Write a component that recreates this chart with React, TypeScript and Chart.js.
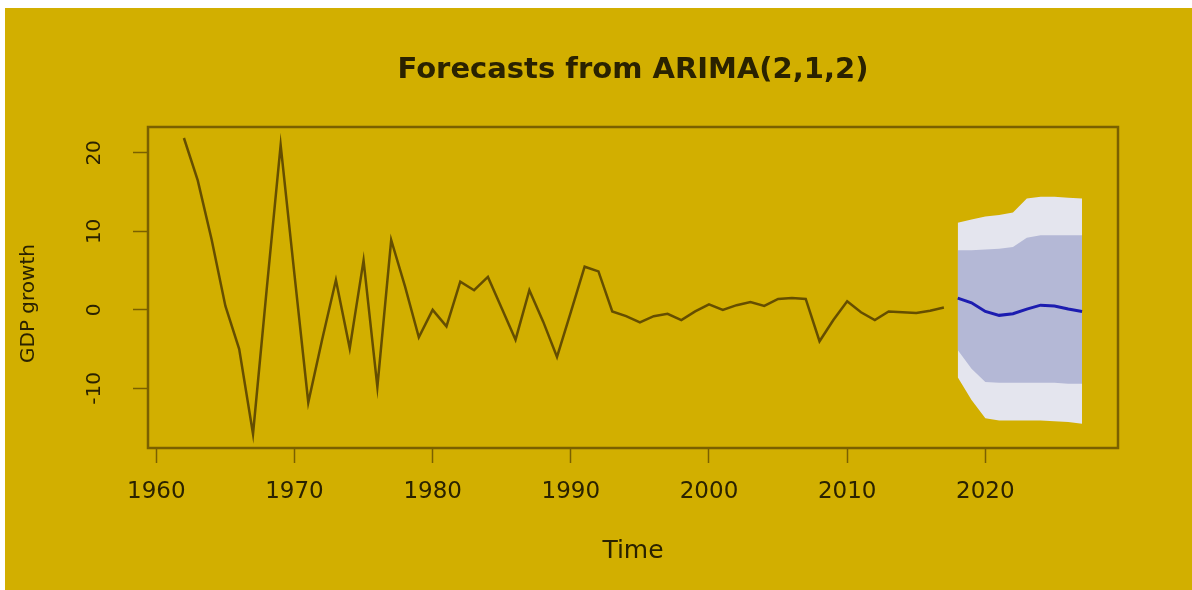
import React, { useEffect, useRef } from "react";
import { Chart, registerables } from "chart.js";

Chart.register(...registerables);

// ---------- data ----------
const obsYears = [
  1962, 1963, 1964, 1965, 1966, 1967, 1968, 1969, 1970, 1971,
  1972, 1973, 1974, 1975, 1976, 1977, 1978, 1979, 1980, 1981,
  1982, 1983, 1984, 1985, 1986, 1987, 1988, 1989, 1990, 1991,
  1992, 1993, 1994, 1995, 1996, 1997, 1998, 1999, 2000, 2001,
  2002, 2003, 2004, 2005, 2006, 2007, 2008, 2009, 2010, 2011,
  2012, 2013, 2014, 2015, 2016, 2017,
];
const gdpGrowth = [
  21.9, 16.5, 9.0, 0.5, -5.0, -15.8, 2.8, 21.0, 4.5, -11.8,
  -3.8, 3.8, -4.9, 6.3, -9.8, 8.9, 3.0, -3.5, 0.0, -2.1,
  3.6, 2.5, 4.2, 0.2, -3.8, 2.5, -1.5, -6.0, -0.3, 5.5,
  4.9, -0.2, -0.8, -1.6, -0.8, -0.5, -1.3, -0.2, 0.7, 0.0,
  0.6, 1.0, 0.5, 1.4, 1.5, 1.4, -4.0, -1.3, 1.1, -0.3,
  -1.3, -0.2, -0.3, -0.4, -0.1, 0.3,
];
const fcYears = [2018, 2019, 2020, 2021, 2022, 2023, 2024, 2025, 2026, 2027];
const fcMean = [1.5, 0.9, -0.2, -0.7, -0.5, 0.1, 0.6, 0.5, 0.1, -0.2];
const hi80 = [7.6, 7.6, 7.7, 7.8, 8.0, 9.2, 9.5, 9.5, 9.5, 9.5];
const lo80 = [-5.1, -7.5, -9.2, -9.3, -9.3, -9.3, -9.3, -9.3, -9.4, -9.4];
const hi95 = [11.1, 11.5, 11.9, 12.1, 12.4, 14.2, 14.4, 14.4, 14.3, 14.2];
const lo95 = [-8.6, -11.5, -13.8, -14.1, -14.1, -14.1, -14.1, -14.2, -14.3, -14.5];
const xTicks = [1960, 1970, 1980, 1990, 2000, 2010, 2020];
const yTicks = [-10, 0, 10, 20];
const yTitle = "GDP growth";

// ---------- style ----------
const BG = "#d2af00";
const TEXT = "#2a2200";
const BOX = "#7a6000";
const LINE = "#654e00";
const BLUE = "#1c1cb0";
const BAND80 = "#b4b8d6";
const BAND95 = "#e4e5ee";
const FONT = "DejaVu Sans";

const pts = (xs: number[], ys: number[]) => ys.map((y, i) => ({ x: xs[i], y }));

const boxPlugin = {
  id: "plotBox",
  afterDraw(chart: any) {
    const { ctx, chartArea: a } = chart;
    ctx.save();
    ctx.strokeStyle = BOX;
    ctx.lineWidth = 2.5;
    ctx.strokeRect(a.left, a.top, a.right - a.left, a.bottom - a.top);
    // y axis title (R places it a little lower than Chart.js would)
    ctx.fillStyle = TEXT;
    ctx.font = `20px "${FONT}"`;
    ctx.textAlign = "center";
    ctx.textBaseline = "middle";
    ctx.translate(24, (a.top + a.bottom) / 2 + 16);
    ctx.rotate(-Math.PI / 2);
    ctx.fillText(yTitle, 0, 0);
    ctx.restore();
  },
};

export default function App() {
  const ref = useRef<HTMLCanvasElement | null>(null);

  useEffect(() => {
    if (!ref.current) return;
    const chart = new Chart(ref.current, {
      type: "line",
      data: {
        datasets: [
          {
            data: pts(obsYears, gdpGrowth),
            borderColor: LINE,
            borderWidth: 2.5,
            pointRadius: 0,
            fill: false,
          },
          {
            data: pts(fcYears, fcMean),
            borderColor: BLUE,
            borderWidth: 3,
            pointRadius: 0,
            fill: false,
          },
          {
            data: pts(fcYears, hi80),
            borderWidth: 0,
            borderColor: "rgba(0,0,0,0)",
            pointRadius: 0,
            backgroundColor: BAND80,
            fill: "+1",
          },
          {
            data: pts(fcYears, lo80),
            borderWidth: 0,
            borderColor: "rgba(0,0,0,0)",
            pointRadius: 0,
            fill: false,
          },
          {
            data: pts(fcYears, hi95),
            borderWidth: 0,
            borderColor: "rgba(0,0,0,0)",
            pointRadius: 0,
            backgroundColor: BAND95,
            fill: "+1",
          },
          {
            data: pts(fcYears, lo95),
            borderWidth: 0,
            borderColor: "rgba(0,0,0,0)",
            pointRadius: 0,
            fill: false,
          },
        ],
      },
      options: {
        responsive: false,
        animation: false,
        events: [],
        layout: { padding: { left: 0, right: 74, top: 0, bottom: 0 } },
        plugins: {
          legend: { display: false },
          tooltip: { enabled: false },
          title: {
            display: true,
            fullSize: false,
            text: "Forecasts from ARIMA(2,1,2)",
            color: TEXT,
            font: { family: FONT, size: 29, weight: "bold" },
            padding: { top: 44.6, bottom: 39.6 },
          },
        },
        scales: {
          x: {
            type: "linear",
            min: 1959.4,
            max: 2029.6,
            afterBuildTicks: (s: any) => {
              s.ticks = xTicks.map((v) => ({ value: v }));
            },
            afterFit: (s: any) => {
              s.height = 142;
            },
            ticks: {
              autoSkip: false,
              minRotation: 0,
              maxRotation: 0,
              padding: 15,
              color: TEXT,
              font: { family: FONT, size: 23 },
              callback: (v: any) => String(v),
            },
            grid: {
              display: true,
              drawOnChartArea: false,
              drawTicks: true,
              tickLength: 15,
              tickColor: BOX,
              tickWidth: 1.5,
            },
            border: { display: false },
            title: {
              display: true,
              text: "Time",
              color: TEXT,
              font: { family: FONT, size: 25 },
              padding: { top: 0, bottom: 24 },
            },
          },
          y: {
            type: "linear",
            min: -17.6,
            max: 23.3,
            afterBuildTicks: (s: any) => {
              s.ticks = yTicks.map((v) => ({ value: v }));
            },
            afterFit: (s: any) => {
              s.width = 143;
            },
            ticks: {
              autoSkip: false,
              minRotation: 90,
              maxRotation: 90,
              crossAlign: "center",
              padding: 22,
              color: TEXT,
              font: { family: FONT, size: 20 },
              callback: (v: any) => String(v),
            },
            grid: {
              display: true,
              drawOnChartArea: false,
              drawTicks: true,
              tickLength: 15,
              tickColor: BOX,
              tickWidth: 1.5,
            },
            border: { display: false },
            title: { display: false },
          },
        },
      },
      plugins: [boxPlugin],
    } as any);
    return () => chart.destroy();
  }, []);

  return (
    <div
      style={{
        position: "absolute",
        left: 5,
        top: 8,
        width: 1187,
        height: 582,
        background: BG,
      }}
    >
      <canvas ref={ref} width={1187} height={582} style={{ display: "block" }} />
    </div>
  );
}
